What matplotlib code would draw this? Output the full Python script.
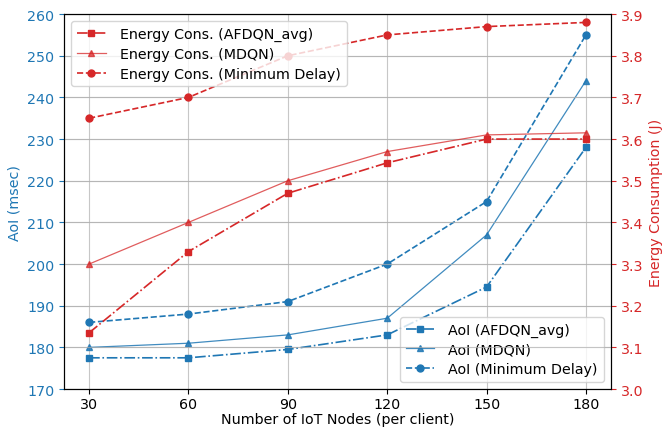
import matplotlib
matplotlib.use("Agg")
import matplotlib.pyplot as plt

nodes = [30, 60, 90, 120, 150, 180]

aoi_afdqn = [177.5, 177.5, 179.5, 183.0, 194.5, 228.0]
aoi_mdqn = [180.0, 181.0, 183.0, 187.0, 207.0, 244.0]
aoi_mindelay = [186.0, 188.0, 191.0, 200.0, 215.0, 255.0]

energy_afdqn = [3.135, 3.33, 3.47, 3.543, 3.60, 3.60]
energy_mdqn = [3.30, 3.40, 3.50, 3.57, 3.61, 3.615]
energy_mindelay = [3.65, 3.70, 3.80, 3.85, 3.87, 3.88]

blue = "#1f77b4"
red = "#d62728"
fs = 10.3

fig = plt.figure(figsize=(6.69, 4.31), dpi=100)
ax = fig.add_axes([0.096, 0.095, 0.817, 0.87])
ax2 = ax.twinx()

ax.plot(nodes, aoi_afdqn, color=blue, linestyle="-.", marker="s", markersize=5,
        linewidth=1.2, label="AoI (AFDQN_avg)")
ax.plot(nodes, aoi_mdqn, color=blue, linestyle="-", marker="^", markersize=5,
        linewidth=0.9, alpha=0.85, label="AoI (MDQN)")
ax.plot(nodes, aoi_mindelay, color=blue, linestyle="--", marker="o", markersize=5,
        linewidth=1.2, label="AoI (Minimum Delay)")

ax2.plot(nodes, energy_afdqn, color=red, linestyle="-.", marker="s", markersize=5,
         linewidth=1.2, label="Energy Cons. (AFDQN_avg)")
ax2.plot(nodes, energy_mdqn, color=red, linestyle="-", marker="^", markersize=5,
         linewidth=0.9, alpha=0.75, label="Energy Cons. (MDQN)")
ax2.plot(nodes, energy_mindelay, color=red, linestyle="--", marker="o", markersize=5,
         linewidth=1.2, label="Energy Cons. (Minimum Delay)")

ax.set_xticks(nodes)
ax.set_ylim(170, 260)
ax2.set_ylim(3.0, 3.9)
ax.set_yticks(range(170, 261, 10))
ax2.set_yticks([3.0 + 0.1 * i for i in range(10)])

ax.grid(True, color="#b0b0b0", linewidth=0.8, alpha=0.7)
ax2.grid(True, axis="y", color="#b0b0b0", linewidth=0.8, alpha=0.7)

ax.set_xlabel("Number of IoT Nodes (per client)", fontsize=fs, labelpad=1)
ax.set_ylabel("AoI (msec)", color=blue, fontsize=fs)
ax2.set_ylabel("Energy Consumption (J)", color=red, fontsize=fs)
ax.tick_params(axis="y", colors=blue, labelsize=fs)
ax.tick_params(axis="x", labelsize=fs, pad=2)
ax2.tick_params(axis="y", colors=red, labelsize=fs)
for t in ax.get_yticklabels():
    t.set_color(blue)
for t in ax2.get_yticklabels():
    t.set_color(red)

ax.legend(loc="lower right", fontsize=fs, handletextpad=1.0, labelspacing=0.4)
ax2.legend(loc="upper left", fontsize=fs, handletextpad=1.0, labelspacing=0.4)

fig.savefig("out.png", dpi=100)
